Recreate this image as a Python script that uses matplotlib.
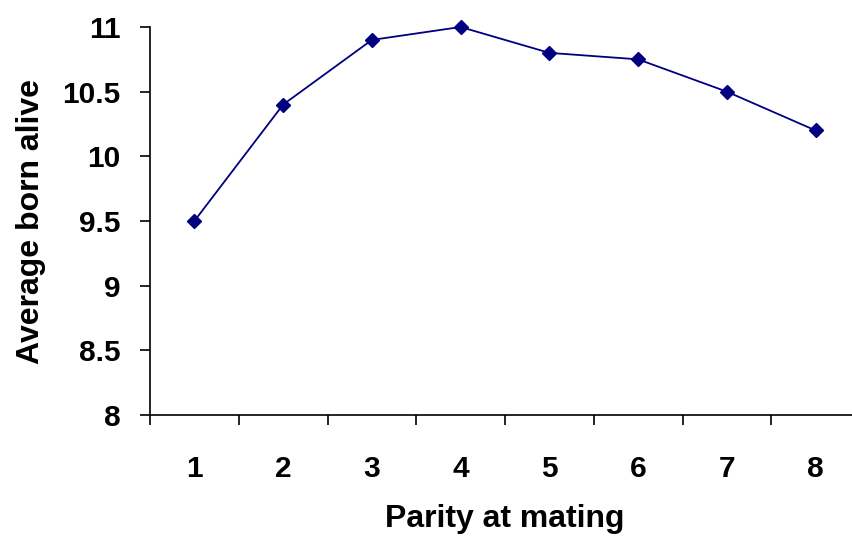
import matplotlib.pyplot as plt
import numpy as np

# dados
paridade = [1, 2, 3, 4, 5, 6, 7, 8]
media_nascidos = [9.5, 10.4, 10.9, 11.0, 10.8, 10.75, 10.5, 10.2]
y_ticks = [8, 8.5, 9, 9.5, 10, 10.5, 11]
y_labels = ['8', '8.5', '9', '9.5', '10', '10.5', '11']

plt.rcParams['font.family'] = ['Liberation Sans', 'DejaVu Sans']
plt.rcParams['font.weight'] = 'bold'

fig = plt.figure(figsize=(8.53, 5.37), dpi=100)
ax = fig.add_axes([150 / 853, 1 - 415 / 537, 710 / 853, 388 / 537])

ax.plot(paridade, media_nascidos, color='#000080', linewidth=1.3,
        marker='D', markersize=7, markerfacecolor='#000080', markeredgecolor='#000080',
        clip_on=False)

ax.set_xlim(0.5, 8.5)
ax.set_ylim(8, 11)

ax.set_yticks(y_ticks)
ax.set_yticklabels(y_labels)
ax.set_xticks(paridade)
ax.set_xticklabels([str(p) for p in paridade])
ax.set_xticks(np.arange(0.5, 9, 1), minor=True)

ax.tick_params(axis='y', direction='out', length=7, width=1.2, pad=14, labelsize=21.5, color='black')
ax.tick_params(axis='x', which='major', length=0, pad=29, labelsize=21.5)
ax.tick_params(axis='x', which='minor', direction='out', length=7, width=1.2)

for s in ['top', 'right']:
    ax.spines[s].set_visible(False)
for s in ['left', 'bottom']:
    ax.spines[s].set_linewidth(1.2)

ax.set_xlabel('Parity at mating', fontsize=23, fontweight='bold', labelpad=15)
ax.set_ylabel('Average born alive', fontsize=23, fontweight='bold', labelpad=12)

fig.savefig('out.png', dpi=100)
